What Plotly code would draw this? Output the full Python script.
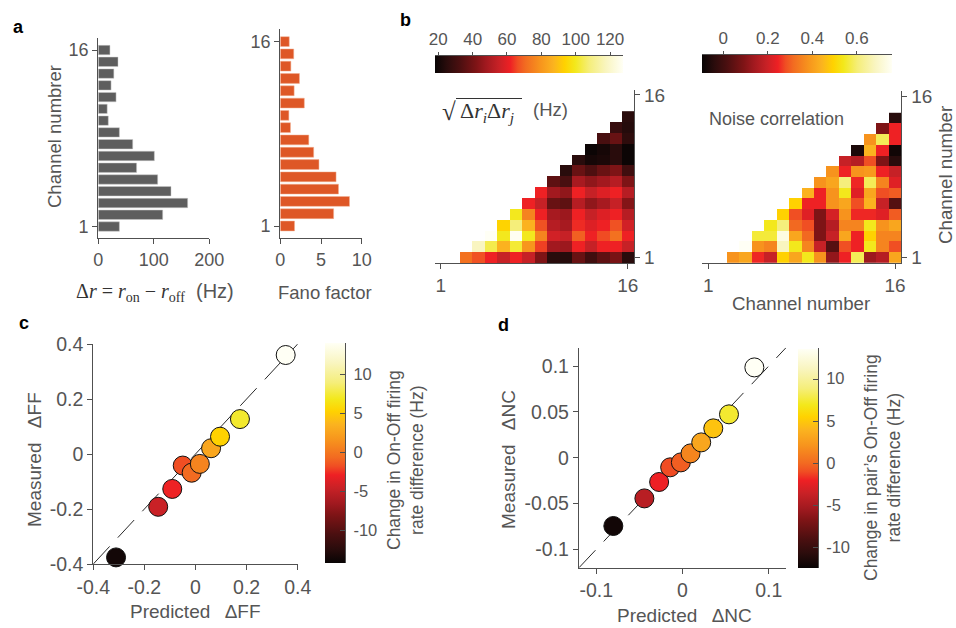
import plotly.graph_objects as go

W, H = 956, 628
def fx(p):
    return p / W
def fy(p):
    return 1 - p / H

# ---------------- data ----------------
channels = list(range(1, 17))
delta_r = [38, 116, 161, 131, 107, 69, 101, 62, 38, 18, 16, 32, 23, 28, 35.5, 21]
fano = [1.75, 6.55, 8.5, 7.15, 6.85, 4.75, 4.1, 3.5, 1.25, 1.05, 2.95, 1.7, 2.35, 1.3, 1.65, 1.1]

# pair matrices: row k (channel k) lists values for the last channels up to 16
pair_rows = list(range(1, 15))
rate_rows = [
    [72, 67, 62, 55, 62, 55, 42, 25, 24, 38, 30, 36, 41, 25],
    [118, 104, 87, 102, 80, 65, 48, 47, 62, 55, 62, 62, 55],
    [135, 100, 127, 100, 76, 57, 55, 69, 62, 66, 72, 62],
    [94, 108, 87, 67, 52, 49, 63, 59, 62, 67, 57],
    [100, 76, 62, 49, 47, 62, 55, 59, 62, 52],
    [62, 55, 38, 36, 52, 45, 49, 55, 43],
    [62, 48, 45, 62, 55, 59, 62, 52],
    [36, 32, 49, 45, 48, 52, 42],
    [25, 38, 33, 38, 42, 30],
    [25, 21, 22, 25, 19],
    [19, 21, 25, 19],
    [32, 38, 26],
    [28, 24],
    [25],
]
nc_rows = [
    [0.38, 0.415, 0.25, 0.19, 0.49, 0.415, 0.54, 0.38, 0.115, 0.245, 0.58, 0.13, 0.165, 0.415],
    [0.8, 0.38, 0.355, 0.68, 0.54, 0.355, 0.19, 0.03, 0.28, 0.245, 0.54, 0.355, 0.28],
    [0.56, 0.56, 0.73, 0.415, 0.31, 0.09, 0.19, 0.415, 0.245, 0.49, 0.355, 0.355],
    [0.54, 0.605, 0.31, 0.28, 0.09, 0.165, 0.355, 0.355, 0.54, 0.38, 0.415],
    [0.49, 0.28, 0.225, 0.09, 0.21, 0.38, 0.25, 0.25, 0.225, 0.295],
    [0.49, 0.245, 0.245, 0.38, 0.415, 0.28, 0.44, 0.19, 0.03],
    [0.44, 0.245, 0.38, 0.54, 0.225, 0.415, 0.28, 0.295],
    [0.38, 0.415, 0.605, 0.25, 0.58, 0.355, 0.225],
    [0.38, 0.245, 0.38, 0.39, 0.245, 0.19],
    [0.19, 0.165, 0.28, 0.09, -0.045],
    [-0.066, 0.44, 0.245, -0.083],
    [0.38, 0.58, 0.245],
    [0.09, 0.245],
    [-0.045],
]

pred_ff = [-0.311, -0.146, -0.091, -0.050, -0.015, 0.017, 0.061, 0.096, 0.174, 0.353]
meas_ff = [-0.376, -0.192, -0.127, -0.042, -0.068, -0.036, 0.021, 0.063, 0.127, 0.360]
chg_ff = [-13.6, -4.6, -2.9, -1.8, -0.7, 0.7, 2.7, 5.2, 7.2, 13.95]

pred_nc = [-0.0802, -0.0442, -0.0271, -0.0143, -0.0019, 0.0093, 0.0217, 0.0357, 0.0539, 0.0833]
meas_nc = [-0.0745, -0.0444, -0.0265, -0.0105, -0.0051, 0.0047, 0.0167, 0.032, 0.0473, 0.0985]
chg_nc = [-11.9, -4.3, -2.0, -1.0, -0.4, 1.4, 3.2, 4.8, 7.4, 13.6]

identity_ff = [-0.4, 0.4]
identity_nc = [-0.12, 0.12]

ff_ticks = [-0.4, -0.2, 0, 0.2, 0.4]
ff_ticktext = ["-0.4", "-0.2", "0", "0.2", "0.4"]
nc_xticks = [-0.1, 0, 0.1]
nc_xticktext = ["-0.1", "0", "0.1"]
nc_yticks = [-0.1, -0.05, 0, 0.05, 0.1]
nc_yticktext = ["-0.1", "-0.05", "0", "0.05", "0.1"]
chg_ticks = [-10, -5, 0, 5, 10]
chg_ticktext = ["-10", "-5", "0", "5", "10"]
rate_cb_ticks = [20, 40, 60, 80, 100, 120]
nc_cb_ticks = [0, 0.2, 0.4, 0.6]
nc_cb_ticktext = ["0", "0.2", "0.4", "0.6"]

# ---------------- style ----------------
LINE = "#505050"
TXT = "#555555"
MATH = "#333333"
FONT = "Liberation Sans, Arial, Helvetica, sans-serif"
SERIF = "Liberation Serif"
HOT = [
    [0.0, "#080404"], [0.064, "#2a0c0c"], [0.13, "#4a0f10"], [0.22, "#7f1416"],
    [0.27, "#a0191f"], [0.34, "#c82126"], [0.40, "#ee2024"], [0.44, "#f04e23"],
    [0.48, "#f26b21"], [0.56, "#f7941d"], [0.63, "#fbb31f"], [0.69, "#ffd200"],
    [0.745, "#f3e81b"], [0.82, "#f5ee7a"], [0.91, "#f9f5c0"], [1.0, "#fffff5"],
]
RATE_MIN, RATE_MAX = 18.1, 127.7
NC_MIN, NC_MAX = -0.097, 0.757
CFF_MIN, CFF_MAX = -14.2, 13.95
CNC_MIN, CNC_MAX = -12.4, 13.6


def build_matrix(rows):
    return [[None] * (16 - len(r)) + list(r) for r in rows]


def ax(size=19, **kw):
    base = dict(showline=True, linecolor=LINE, linewidth=1.3, ticks="outside", ticklen=5,
                tickwidth=1.3, tickcolor=LINE, showgrid=False, zeroline=False,
                tickfont=dict(size=size, color=TXT, family=FONT), fixedrange=True)
    base.update(kw)
    return base


fig = go.Figure()

# panel a
fig.add_trace(go.Bar(x=delta_r, y=channels, orientation="h", width=0.8,
                     marker=dict(color="#5e5e5e", line=dict(color="#c8c8c8", width=0.5)),
                     xaxis="x", yaxis="y", hoverinfo="x+y"))
fig.add_trace(go.Bar(x=fano, y=channels, orientation="h", width=0.8,
                     marker=dict(color="#de5726", line=dict(color="#f3b093", width=0.5)),
                     xaxis="x2", yaxis="y2", hoverinfo="x+y"))

# panel b heatmaps
fig.add_trace(go.Heatmap(z=build_matrix(rate_rows), x=channels, y=pair_rows,
                         colorscale=HOT, zmin=RATE_MIN, zmax=RATE_MAX, hoverongaps=False,
                         xaxis="x3", yaxis="y3",
                         colorbar=dict(orientation="h", x=fx(435), xanchor="left",
                                       y=fy(72.7), yanchor="bottom", len=(623.3 - 435) / W,
                                       lenmode="fraction", thickness=16.7, xpad=0, ypad=0,
                                       outlinewidth=0, showticklabels=False, ticks="")))
fig.add_trace(go.Heatmap(z=build_matrix(nc_rows), x=channels, y=pair_rows,
                         colorscale=HOT, zmin=NC_MIN, zmax=NC_MAX, hoverongaps=False,
                         xaxis="x4", yaxis="y4",
                         colorbar=dict(orientation="h", x=fx(701.7), xanchor="left",
                                       y=fy(72.7), yanchor="bottom", len=(891.7 - 701.7) / W,
                                       lenmode="fraction", thickness=17.7, xpad=0, ypad=0,
                                       outlinewidth=0, showticklabels=False, ticks="")))

# panel c
fig.add_trace(go.Scatter(x=identity_ff, y=identity_ff, mode="lines",
                         line=dict(color="#111111", width=0.9, dash="24px,12px"),
                         xaxis="x5", yaxis="y5", hoverinfo="skip"))
fig.add_trace(go.Scatter(x=pred_ff, y=meas_ff, mode="markers", cliponaxis=False,
                         xaxis="x5", yaxis="y5",
                         marker=dict(color=chg_ff, colorscale=HOT, cmin=CFF_MIN, cmax=CFF_MAX,
                                     size=19, line=dict(color="#111111", width=1),
                                     showscale=True,
                                     colorbar=dict(x=fx(325), xanchor="left", y=fy(563.3),
                                                   yanchor="bottom", len=220 / H,
                                                   lenmode="fraction", thickness=20,
                                                   xpad=0, ypad=0, outlinewidth=0,
                                                   showticklabels=False, ticks="inside",
                                                   ticklen=5, tickcolor=LINE,
                                                   tickmode="array", tickvals=chg_ticks))))

# panel d
fig.add_trace(go.Scatter(x=identity_nc, y=identity_nc, mode="lines",
                         line=dict(color="#111111", width=0.9, dash="24px,12px"),
                         xaxis="x6", yaxis="y6", hoverinfo="skip"))
fig.add_trace(go.Scatter(x=pred_nc, y=meas_nc, mode="markers", cliponaxis=False,
                         xaxis="x6", yaxis="y6",
                         marker=dict(color=chg_nc, colorscale=HOT, cmin=CNC_MIN, cmax=CNC_MAX,
                                     size=19, line=dict(color="#111111", width=1),
                                     showscale=True,
                                     colorbar=dict(x=fx(798), xanchor="left", y=fy(567.7),
                                                   yanchor="bottom", len=(567.7 - 348.3) / H,
                                                   lenmode="fraction", thickness=19.7,
                                                   xpad=0, ypad=0, outlinewidth=0,
                                                   showticklabels=False, ticks="inside",
                                                   ticklen=5, tickcolor=LINE,
                                                   tickmode="array", tickvals=chg_ticks))))

# empty traces for colorbar-label axes
for k in (7, 8, 9, 10):
    fig.add_trace(go.Scatter(x=[None], y=[None], xaxis=f"x{k}", yaxis=f"y{k}",
                             hoverinfo="skip", mode="markers"))

hidden = dict(visible=False, fixedrange=True, range=[0, 1])

fig.update_layout(
    width=W, height=H, margin=dict(l=0, r=0, t=0, b=0, autoexpand=False),
    paper_bgcolor="white", plot_bgcolor="white", showlegend=False,
    font=dict(family=FONT, color=TXT),
    xaxis=ax(18, domain=[fx(98.3), fx(209.3)], range=[0, 200], anchor="y", tickvals=[0, 100, 200]),
    yaxis=ax(18, domain=[fy(238.3), fy(38.3)], range=[0, 17], anchor="x", tickvals=[1, 16]),
    xaxis2=ax(18, domain=[fx(280.3), fx(361.7)], range=[0, 10], anchor="y2", tickvals=[0, 5, 10]),
    yaxis2=ax(18, domain=[fy(238.3), fy(29.3)], range=[0, 17], anchor="x2", tickvals=[1, 16]),
    xaxis3=ax(19, domain=[fx(434.5), fx(634)], range=[0.5, 16.5], anchor="y3", tickvals=[1, 16]),
    yaxis3=ax(19, domain=[fy(263.1), fy(89.5)], range=[0.5, 16.5], anchor="x3", side="right",
              tickvals=[1, 16]),
    xaxis4=ax(19, domain=[fx(702.1), fx(901.3)], range=[0.5, 16.5], anchor="y4", tickvals=[1, 16]),
    yaxis4=ax(19, domain=[fy(263.1), fy(91.3)], range=[0.5, 16.5], anchor="x4", side="right",
              tickvals=[1, 16]),
    xaxis5=ax(19.5, domain=[fx(93.3), fx(297.7)], range=[-0.4, 0.4], anchor="y5",
              tickvals=ff_ticks, ticktext=ff_ticktext),
    yaxis5=ax(19.5, domain=[fy(564), fy(344)], range=[-0.4, 0.4], anchor="x5",
              tickvals=ff_ticks, ticktext=ff_ticktext),
    xaxis6=ax(19.5, domain=[fx(579), fx(786)], range=[-0.12, 0.12], anchor="y6",
              tickvals=nc_xticks, ticktext=nc_xticktext),
    yaxis6=ax(19.5, domain=[fy(567.7), fy(347.7)], range=[-0.12, 0.12], anchor="x6",
              tickvals=nc_yticks, ticktext=nc_yticktext),
    xaxis7=ax(17, domain=[fx(435), fx(623.3)], range=[RATE_MIN, RATE_MAX], anchor="y7", side="top",
              tickvals=rate_cb_ticks, ticks="outside", ticklen=3),
    yaxis7=dict(domain=[fy(72.7), fy(56)], anchor="x7", **hidden),
    xaxis8=ax(17, domain=[fx(701.7), fx(891.7)], range=[NC_MIN, NC_MAX], anchor="y8", side="top",
              tickvals=nc_cb_ticks, ticktext=nc_cb_ticktext, ticks="outside", ticklen=3),
    yaxis8=dict(domain=[fy(72.7), fy(55)], anchor="x8", **hidden),
    xaxis9=dict(domain=[fx(325), fx(345)], anchor="y9", **hidden),
    yaxis9=ax(16.5, domain=[fy(563.3), fy(343.3)], range=[CFF_MIN, CFF_MAX], anchor="x9", side="right",
              tickvals=chg_ticks, ticktext=chg_ticktext, ticklen=4, tickcolor="rgba(0,0,0,0)"),
    xaxis10=dict(domain=[fx(798), fx(817.7)], anchor="y10", **hidden),
    yaxis10=ax(16.5, domain=[fy(567.7), fy(348.3)], range=[CNC_MIN, CNC_MAX], anchor="x10", side="right",
               tickvals=chg_ticks, ticktext=chg_ticktext, ticklen=4, tickcolor="rgba(0,0,0,0)"),
)

ann = []
def add_text(text, x, y, size=18.5, angle=0, xanchor="center", color=TXT, bold=False, family=FONT):
    ann.append(dict(text=f"<b>{text}</b>" if bold else text, x=fx(x), y=fy(y),
                    xref="paper", yref="paper", showarrow=False, textangle=angle,
                    xanchor=xanchor, yanchor="middle",
                    font=dict(size=size, color=color, family=family)))

add_text("a", 18, 27, size=18, color="#000000", bold=True)
add_text("b", 405, 20, size=18, color="#000000", bold=True)
add_text("c", 24, 323, size=18, color="#000000", bold=True)
add_text("d", 503, 325, size=18, color="#000000", bold=True)

add_text("Channel numbrer", 54, 137, angle=-90)
add_text(f'<span style="font-family:{SERIF};color:{MATH}">Δ<i>r</i> = <i>r</i><sub>on</sub> − <i>r</i><sub>off</sub></span>\u00a0\u00a0(Hz)',
         155, 292, size=20)
add_text("Fano factor", 325, 292)

# sqrt(Δr_i Δr_j) label
add_text("√", 449, 111, size=25, color=MATH, family=SERIF)
add_text("Δ<i>r<sub>i</sub></i>Δ<i>r<sub>j</sub></i>", 458, 112, size=22, color=MATH,
         family=SERIF, xanchor="left")
add_text("(Hz)", 531, 110, size=18.5, xanchor="left")

add_text("Noise correlation", 707, 119, size=18, xanchor="left")
add_text("Channel number", 945, 175, angle=-90, size=18.7)
add_text("Channel number", 801, 303, size=18.7)
add_text("Measured\u00a0\u00a0\u2009ΔFF", 35, 460, angle=-90, size=19)
add_text("Predicted\u00a0\u00a0\u2009ΔFF", 195, 611, size=19)
add_text("Measured\u00a0\u00a0\u2009ΔNC", 509, 460, angle=-90, size=19)
add_text("Predicted\u00a0\u00a0\u2009ΔNC", 684, 615, size=19)
add_text("Change in On-Off firing<br>rate difference (Hz)", 406, 460, size=17.5, angle=-90)
add_text("Change in pair’s On-Off firing<br>rate difference (Hz)", 883, 468, size=17.5, angle=-90)

fig.update_layout(
    annotations=ann,
    shapes=[dict(type="line", xref="paper", yref="paper", x0=fx(456), x1=fx(522),
                 y0=fy(98.5), y1=fy(98.5), line=dict(color=MATH, width=1))],
)
fig.write_html("out.html", config={"displayModeBar": False},
               post_script="document.body.style.margin='0';document.body.style.padding='0';")
